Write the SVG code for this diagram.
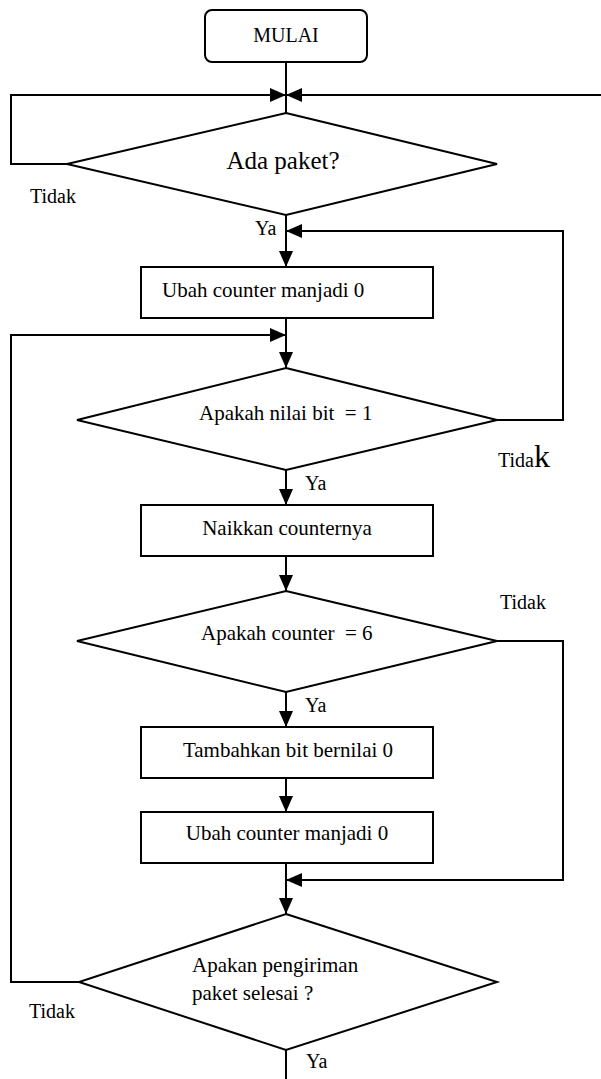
<svg xmlns="http://www.w3.org/2000/svg" width="601" height="1079" viewBox="0 0 601 1079" font-family="'Liberation Serif', 'Times New Roman', serif">
<style>
.shape{fill:#fff;stroke:#000;stroke-width:2}
.conn{fill:none;stroke:#000;stroke-width:2}
text{font-family:'Liberation Serif','Times New Roman',serif;font-size:20px;fill:#000;white-space:pre}
.c{text-anchor:middle}
.big{font-size:25px}
.t21{font-size:21px}
.k{font-size:32px}
</style>
<defs>
<marker id="arr" markerUnits="userSpaceOnUse" viewBox="0 0 16 14" refX="16" refY="7" markerWidth="16" markerHeight="14" orient="auto">
<path d="M0,0 L16,7 L0,14 z" fill="#000"/>
</marker>
</defs>
<rect width="601" height="1079" fill="#fff"/>
<g id="connectors">
<line class="conn" x1="286" y1="62" x2="286" y2="113"/>
<path class="conn" d="M67,164 H11 V95 H286" marker-end="url(#arr)"/>
<path class="conn" d="M601,95 H286" marker-end="url(#arr)"/>
<line class="conn" x1="286" y1="215" x2="286" y2="267" marker-end="url(#arr)"/>
<path class="conn" d="M497,420 H563 V231 H286" marker-end="url(#arr)"/>
<line class="conn" x1="286" y1="318" x2="286" y2="368" marker-end="url(#arr)"/>
<path class="conn" d="M79,982 H11 V335 H286" marker-end="url(#arr)"/>
<line class="conn" x1="286" y1="470" x2="286" y2="505" marker-end="url(#arr)"/>
<line class="conn" x1="286" y1="556" x2="286" y2="591" marker-end="url(#arr)"/>
<line class="conn" x1="286" y1="692" x2="286" y2="727" marker-end="url(#arr)"/>
<line class="conn" x1="286" y1="778" x2="286" y2="812" marker-end="url(#arr)"/>
<path class="conn" d="M497,641 H563 V880 H286" marker-end="url(#arr)"/>
<line class="conn" x1="286" y1="863" x2="286" y2="914" marker-end="url(#arr)"/>
<line class="conn" x1="286" y1="1050" x2="286" y2="1079"/>
<text x="30" y="203">Tidak</text>
<text x="255" y="235">Ya</text>
<text x="498" y="467">Tida<tspan class="k">k</tspan></text>
<text x="305" y="490">Ya</text>
<text x="500" y="609">Tidak</text>
<text x="305" y="712">Ya</text>
<text x="29" y="1018">Tidak</text>
<text x="306" y="1068">Ya</text>
</g>
<g id="start">
<rect class="shape" x="205" y="10" width="162" height="52" rx="7"/>
<text class="c" x="286" y="42">MULAI</text>
</g>
<g id="d1">
<polygon class="shape" points="286,113 497,164 286,215 67,164"/>
<text class="c big" x="283" y="169">Ada paket?</text>
</g>
<g id="b1">
<rect class="shape" x="141" y="267" width="292" height="51"/>
<text class="t21" x="162" y="297">Ubah counter manjadi 0</text>
</g>
<g id="d2">
<polygon class="shape" points="286,368 497,420 286,470 77,420"/>
<text class="t21" x="199" y="420">Apakah nilai bit  = 1</text>
</g>
<g id="b2">
<rect class="shape" x="141" y="505" width="292" height="51"/>
<text class="c t21" x="287" y="535">Naikkan counternya</text>
</g>
<g id="d3">
<polygon class="shape" points="286,591 497,641 286,692 77,641"/>
<text class="t21" x="201" y="640">Apakah counter  = 6</text>
</g>
<g id="b3">
<rect class="shape" x="141" y="727" width="292" height="51"/>
<text class="c t21" x="288" y="757">Tambahkan bit bernilai 0</text>
</g>
<g id="b4">
<rect class="shape" x="141" y="812" width="292" height="51"/>
<text class="c t21" x="287" y="840">Ubah counter manjadi 0</text>
</g>
<g id="d4">
<polygon class="shape" points="286,914 497,982 286,1050 79,982"/>
<text class="t21" x="192" y="972">Apakan pengiriman</text>
<text class="t21" x="192" y="1000">paket selesai ?</text>
</g>
</svg>
